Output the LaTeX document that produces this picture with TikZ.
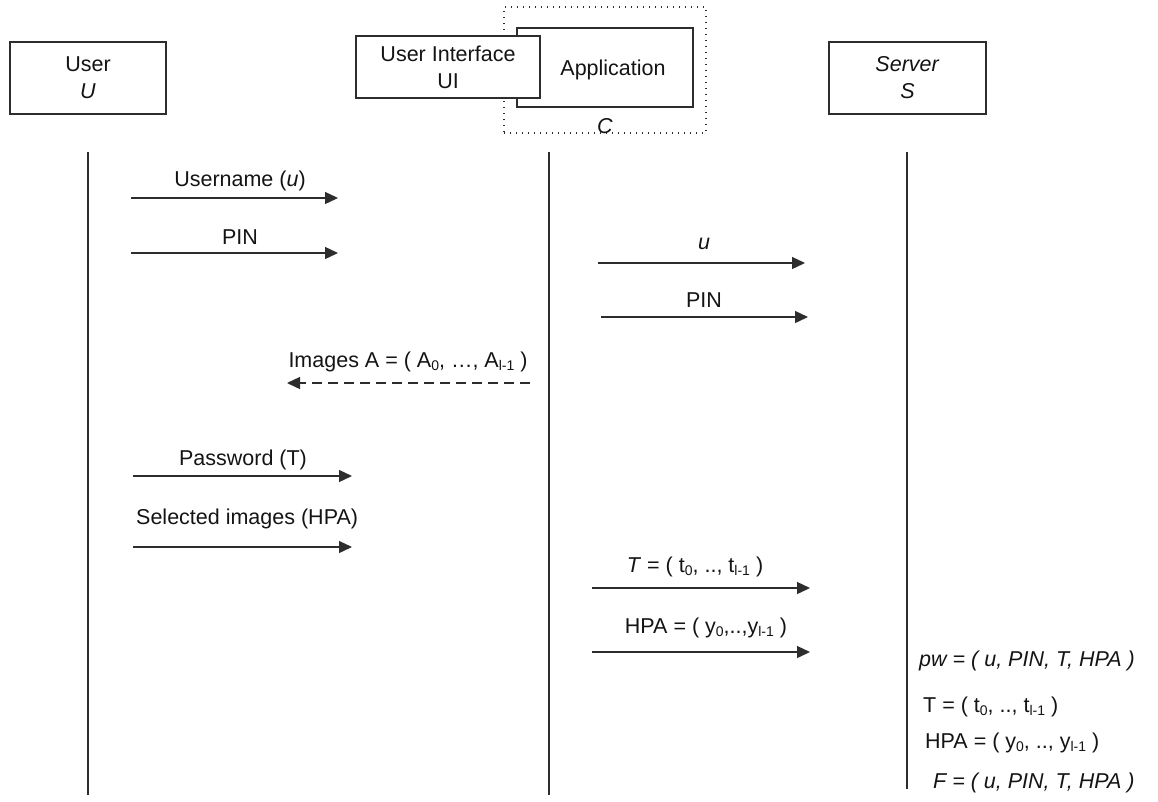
\documentclass[tikz,border=0pt]{standalone}
\usepackage{fontspec}
\setmainfont{Liberation Sans}
\usetikzlibrary{arrows.meta}
\definecolor{linec}{RGB}{45,45,45}
\definecolor{textc}{RGB}{20,20,20}
\newcommand{\lsub}[1]{\raisebox{-0.35ex}{\fontsize{14}{14}\selectfont #1}}
\begin{document}
\begin{tikzpicture}[x=1pt,y=-1pt,
  every node/.style={font=\fontsize{21.5}{27}\selectfont, inner sep=0pt, text=textc},
  box/.style={draw=linec, line width=1.3pt, fill=white, align=center},
  dotbox/.style={draw=linec, line width=1.3pt, dash pattern=on 1.3pt off 4.7pt},
  life/.style={draw=linec, line width=1.3pt},
  msg/.style={draw=linec, line width=1.3pt, -{Triangle[length=13pt,width=12pt]}},
  reply/.style={msg, dash pattern=on 10pt off 6pt},
  lbl/.style={anchor=base},
  lblw/.style={anchor=base west}
  ]
\useasboundingbox (0,0) rectangle (1158,801);

% participants
\node[box, minimum width=156, minimum height=72] (user) at (88,78) {User\\\textit{U}};
\node[dotbox, minimum width=202, minimum height=126] (client) at (605,70) {};
\node[lbl] (clbl) at (605,133) {\textit{C}};
\node[box, minimum width=176, minimum height=79] (app) at (605,67.5) {};
\node[lbl] (applbl) at (613,75) {Application};
\node[box, minimum width=184, minimum height=62] (ui) at (448,67) {User Interface\\UI};
\node[box, minimum width=157, minimum height=72] (server) at (907.5,78) {\textit{Server}\\\textit{S}};

% lifelines
\coordinate (uTop) at (88,152);  \coordinate (uBot) at (88,795);
\coordinate (cTop) at (549,152); \coordinate (cBot) at (549,795);
\coordinate (sTop) at (907,152); \coordinate (sBot) at (907,789);
\draw[life] (uTop) -- (uBot);
\draw[life] (cTop) -- (cBot);
\draw[life] (sTop) -- (sBot);

% messages
\coordinate (m1a) at (131,198); \coordinate (m1b) at (338,198);
\draw[msg] (m1a) -- (m1b);
\node[lbl] (l1) at (240,186) {Username (\textit{u})};

\coordinate (m2a) at (131,253); \coordinate (m2b) at (338,253);
\draw[msg] (m2a) -- (m2b);
\node[lbl] (l2) at (240,244) {PIN};

\coordinate (m3a) at (598,263); \coordinate (m3b) at (805,263);
\draw[msg] (m3a) -- (m3b);
\node[lbl] (l3) at (704,249) {\textit{u}};

\coordinate (m4a) at (601,317); \coordinate (m4b) at (808,317);
\draw[msg] (m4a) -- (m4b);
\node[lbl] (l4) at (704,307) {PIN};

\coordinate (m5a) at (530,383); \coordinate (m5b) at (287,383);
\draw[reply] (m5a) -- (m5b);
\node[lbl] (l5) at (408,367) {Images A = ( A\lsub{0}, …, A\lsub{l-1} )};

\coordinate (m6a) at (133,476); \coordinate (m6b) at (352,476);
\draw[msg] (m6a) -- (m6b);
\node[lbl] (l6) at (243,465) {Password (T)};

\coordinate (m7a) at (133,547); \coordinate (m7b) at (352,547);
\draw[msg] (m7a) -- (m7b);
\node[lblw] (l7) at (136,524) {Selected images (HPA)};

\coordinate (m8a) at (592,588); \coordinate (m8b) at (810,588);
\draw[msg] (m8a) -- (m8b);
\node[lbl] (l8) at (695,572) {\textit{T} = ( t\lsub{0}, .., t\lsub{l-1} )};

\coordinate (m9a) at (592,652); \coordinate (m9b) at (810,652);
\draw[msg] (m9a) -- (m9b);
\node[lbl] (l9) at (706,633) {HPA = ( y\lsub{0},..,y\lsub{l-1} )};

% server computations
\node[lblw] (pw) at (919,666) {\textit{pw = ( u, PIN, T, HPA )}};
\node[lblw] (tt) at (923,712) {T = ( t\lsub{0}, .., t\lsub{l-1} )};
\node[lblw] (hpa) at (925,748) {HPA = ( y\lsub{0}, .., y\lsub{l-1} )};
\node[lblw] (ff) at (933,788) {\textit{F = ( u, PIN, T, HPA )}};
\end{tikzpicture}
\end{document}
